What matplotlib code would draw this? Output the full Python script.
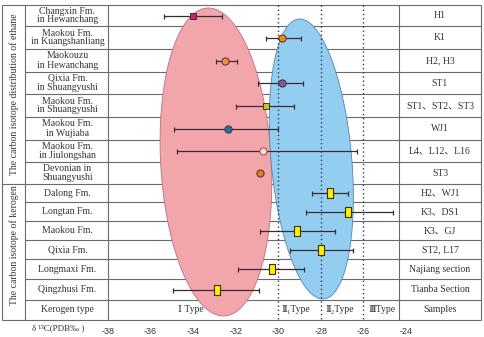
import matplotlib
matplotlib.use("Agg")
import matplotlib.pyplot as plt
import numpy as np
from matplotlib.patches import Polygon
from matplotlib.transforms import blended_transform_factory

# ---------------- data ----------------
formations = ["Changxin Fm.\nin Hewanchang", "Maokou Fm.\nin Kuangshanliang",
              "Maokouzu\nin Hewanchang", "Qixia Fm.\nin Shuangyushi",
              "Maokou Fm.\nin Shuangyushi", "Maokou Fm.\nin Wujiaba",
              "Maokou Fm.\nin Jiulongshan", "Devonian in\nShuangyushi",
              "Dalong Fm.", "Longtan Fm.", "Maokou Fm.", "Qixia Fm.",
              "Longmaxi Fm.", "Qingzhusi Fm.", "Kerogen type"]
samples = ["H1", "K1", "H2, H3", "ST1", "ST1、ST2、ST3", "WJ1", "L4、L12、L16", "ST3",
           "H2、WJ1", "K3、DS1", "K3、GJ", "ST2, L17", "Najiang section",
           "Tianba Section", "Samples"]
delta13c = [-34.0, -29.85, -32.5, -29.85, -30.6, -32.35, -30.7, -30.85,
            -27.55, -26.75, -29.1, -28.0, -30.3, -32.9]
err_low = [1.35, 0.75, 0.45, 1.1, 1.4, 2.55, 4.05, 0.0,
           0.85, 1.95, 1.75, 1.45, 1.6, 2.05]
err_high = [1.35, 0.9, 0.55, 1.0, 1.35, 2.35, 4.4, 0.0,
            0.8, 2.15, 1.75, 1.5, 1.5, 2.0]
marker_kind = ["s", "o", "o", "o", "s", "o", "o", "o",
               "rect", "rect", "rect", "rect", "rect", "rect"]
marker_face = ["#D21F7C", "#F08A1E", "#F0923A", "#7B5EA7", "#BCCB22", "#1F72B8",
               "#F8DDDD", "#E07B22",
               "#FFF000", "#FFF000", "#FFF000", "#FFF000", "#FFF000", "#FFF000"]
group_labels = ["The carbon isotope distribution of ethane", "The carbon isotope of kerogen"]
type_labels = ["Ⅰ Type", "Ⅱ₁Type", "Ⅱ₂Type", "ⅢType"]
type_pos = [-34.1, -29.2, -27.1, -25.15]
type_bounds = [-30, -28, -26]
xticks = [-38, -36, -34, -32, -30, -28, -26, -24]

# ---------------- layout ----------------
W, H = 485, 337
ROW_EDGES = [5, 26, 49, 72, 94, 117, 140, 162, 184, 202, 221, 240, 259, 279, 300, 320]
X_LEFT, X_GRP, X_LAB, X_PLOT_R, X_RIGHT = 2, 25, 108, 399, 481
PX_PER_UNIT = 21.29
row_center = [(ROW_EDGES[i] + ROW_EDGES[i + 1]) / 2 for i in range(len(ROW_EDGES) - 1)]

serif = ["Liberation Serif", "DejaVu Serif", "Noto Sans CJK SC"]
txt_col = "#333333"
line_col = "#6a6a6a"

fig = plt.figure(figsize=(W / 100, H / 100), dpi=100)
bg = fig.add_axes([0, 0, 1, 1])
bg.set_xlim(0, W)
bg.set_ylim(H, 0)
bg.axis("off")
bg.set_zorder(0)

ax = fig.add_axes([X_LAB / W, 1 - ROW_EDGES[-1] / H, (X_PLOT_R - X_LAB) / W,
                   (ROW_EDGES[-1] - ROW_EDGES[0]) / H])
ax.set_xlim(-38, -38 + (X_PLOT_R - X_LAB) / PX_PER_UNIT)
ax.set_ylim(ROW_EDGES[-1], ROW_EDGES[0])
ax.axis("off")
ax.patch.set_alpha(0)
ax.set_zorder(1)

# table grid
lw = 0.8
for i, y in enumerate(ROW_EDGES):
    x0 = X_LEFT if (i in (0, len(ROW_EDGES) - 1, 8)) else X_GRP
    bg.plot([x0, X_RIGHT], [y, y], color=line_col, lw=lw, solid_capstyle="butt")
for x in [X_LEFT, X_GRP, X_LAB, X_PLOT_R, X_RIGHT]:
    bg.plot([x, x], [ROW_EDGES[0], ROW_EDGES[-1]], color=line_col, lw=lw, solid_capstyle="butt")

# text columns
for i, (f, s) in enumerate(zip(formations, samples)):
    bg.text((X_GRP + X_LAB) / 2 + 1, row_center[i], f, ha="center", va="center",
            fontsize=7, family=serif, color=txt_col, linespacing=1.0)
    bg.text((X_PLOT_R + X_RIGHT) / 2, row_center[i], s, ha="center", va="center",
            fontsize=7, family=serif, color=txt_col)
bg.text((X_LEFT + X_GRP) / 2 + 1, (ROW_EDGES[0] + ROW_EDGES[8]) / 2, group_labels[0],
        rotation=90, ha="center", va="center", fontsize=7, family=serif, color=txt_col)
bg.text((X_LEFT + X_GRP) / 2 + 1, 245, group_labels[1],
        rotation=90, ha="center", va="center", fontsize=7, family=serif, color=txt_col)

# type ellipses (sheared)
def zone(cx, rx, cy, ry, shear_px, face, edge):
    t = np.linspace(0, 2 * np.pi, 300)
    x = cx + rx * np.cos(t) + shear_px / PX_PER_UNIT * ry * np.sin(t)
    y = cy + ry * np.sin(t)
    ax.add_patch(Polygon(np.column_stack([x, y]), closed=True, facecolor=face,
                         edgecolor=edge, lw=0.6, zorder=1))

zone(-32.93, 2.6, 162, 154, 15 / 308, "#F3A5AC", "#B8737A")
zone(-28.45, 1.9, 159, 140, 23 / 280, "#93CEF1", "#5685AD")

ax.vlines(type_bounds, ROW_EDGES[0], ROW_EDGES[-1], colors="#2d3a58",
          linestyles=(0, (1, 2)), lw=1.0, zorder=3)

# points with error bars
rect = [(-0.3, -0.5), (0.3, -0.5), (0.3, 0.5), (-0.3, 0.5), (-0.3, -0.5)]
for i, v in enumerate(delta13c):
    y = row_center[i]
    if err_low[i] > 0 or err_high[i] > 0:
        ax.errorbar([v], [y], xerr=[[err_low[i]], [err_high[i]]], fmt="none",
                    ecolor="#3b2b30", elinewidth=0.9, capsize=1.8, capthick=0.9, zorder=4)
    k = marker_kind[i]
    edge = "#A0404A" if i == 6 else "#4a3020"
    if k == "rect":
        ax.plot([v], [y], marker=rect, ms=7, mfc=marker_face[i], mec="#3a3000",
                mew=0.8, zorder=5, ls="none")
    elif k == "s":
        ax.plot([v], [y], marker="s", ms=4.6, mfc=marker_face[i], mec=edge,
                mew=0.7, zorder=5, ls="none")
    else:
        ax.plot([v], [y], marker="o", ms=5.2, mfc=marker_face[i], mec=edge,
                mew=0.7, zorder=5, ls="none")

# kerogen type labels
for lab, xp in zip(type_labels, type_pos):
    ax.text(xp, row_center[-1], lab, ha="center", va="center", fontsize=7,
            family=serif, color=txt_col, zorder=6)

# x tick labels
tr = blended_transform_factory(ax.transData, bg.transData)
for v in xticks:
    ax.text(v, 331, f"{v}", transform=tr, ha="center", va="center", fontsize=6.5,
            family=["Liberation Sans", "DejaVu Sans"], color=txt_col, clip_on=False)
bg.text(58, 328, "δ ¹³C(PDB‰ )", ha="center", va="center", fontsize=6.5,
        family=serif, color=txt_col)

fig.savefig("out.png", dpi=100)
